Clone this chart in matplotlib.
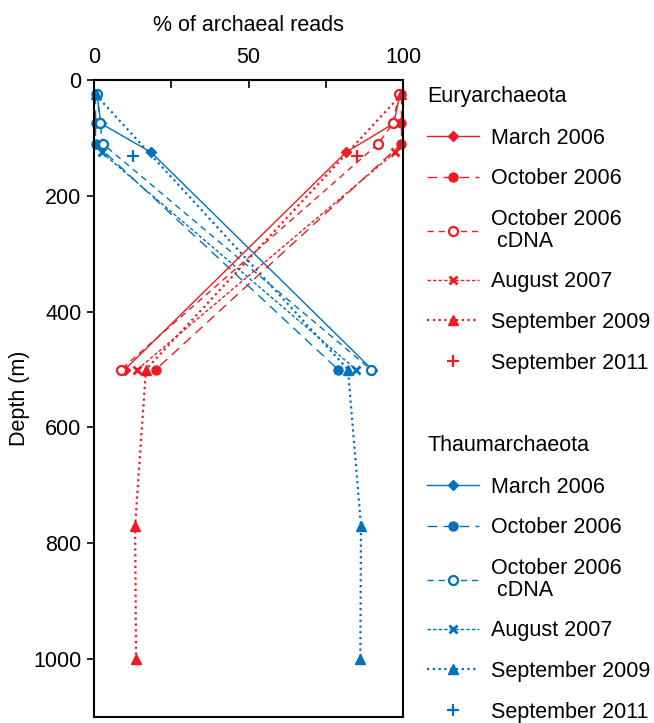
import matplotlib
matplotlib.use("Agg")
import matplotlib.pyplot as plt

plt.rcParams['font.family'] = ['Liberation Sans', 'DejaVu Sans']
plt.rcParams['font.size'] = 15.5

# Data --------------------------------------------------------------
depth_mar06 = [25, 75, 125, 500]
eury_mar06 = [99, 97, 81.5, 10]
thaum_mar06 = [1, 2.2, 18.5, 90]

depth_oct06 = [25, 75, 110, 500]
eury_oct06 = [99.5, 99.5, 99.5, 20]
thaum_oct06 = [0.5, 0.5, 0.5, 79]

depth_cdna = [25, 75, 110, 500]
eury_cdna = [98.7, 96.7, 92, 8.7]
thaum_cdna = [1, 2, 2.8, 89.6]

depth_aug07 = [125, 500]
eury_aug07 = [97.4, 14]
thaum_aug07 = [2.5, 84.8]

depth_sep09 = [25, 500, 770, 1000]
eury_sep09 = [99.5, 16.8, 13.3, 13.6]
thaum_sep09 = [0.5, 82.2, 86.4, 86.2]

depth_sep11 = [131]
eury_sep11 = [85]
thaum_sep11 = [12.6]

labels = ['March 2006', 'October 2006', 'October 2006\n cDNA',
          'August 2007', 'September 2009', 'September 2011']

RED = '#ED1C24'
BLUE = '#0071BC'

# styles: (linestyle, marker, markersize, filled, lw, mew)
styles = [
  ('-', 'D', 5.5, True, 1.0, 1.0),
  ((0, (7, 4.5)), 'o', 6.5, True, 1.0, 1.0),
  ((0, (4.5, 3.5)), 'o', 6.5, False, 1.0, 1.6),
  ((0, (2.5, 1.5)), 'x', 6, True, 1.0, 2.0),
  ((0, (1, 1.6)), '^', 7, True, 1.6, 1.0),
  ('none', '+', 9, True, 1.0, 1.6),
]

fig = plt.figure(figsize=(6.54, 7.23), dpi=100)
ax = fig.add_axes([94/654, 1-717/723, (403-94)/654, (717-80)/723])

def plot_group(series, color):
  handles = []
  for (d, v), lab, st in zip(series, labels, styles):
    ls, mk, ms, filled, lw, mew = st
    h, = ax.plot(v, d, linestyle=ls, marker=mk, markersize=ms, color=color,
                 markerfacecolor=color if filled else 'white',
                 markeredgecolor=color, markeredgewidth=mew, lw=lw,
                 label=lab, clip_on=False)
    handles.append(h)
  return handles

eury = [(depth_mar06, eury_mar06), (depth_oct06, eury_oct06), (depth_cdna, eury_cdna),
        (depth_aug07, eury_aug07), (depth_sep09, eury_sep09), (depth_sep11, eury_sep11)]
thaum = [(depth_mar06, thaum_mar06), (depth_oct06, thaum_oct06), (depth_cdna, thaum_cdna),
         (depth_aug07, thaum_aug07), (depth_sep09, thaum_sep09), (depth_sep11, thaum_sep11)]

h_thaum = plot_group(thaum, BLUE)
h_eury = plot_group(eury, RED)

# Axes details
ax.set_xlim(0, 100)
ax.set_ylim(1100, 0)
ax.xaxis.tick_top()
ax.xaxis.set_label_position('top')
ax.set_xticks([0, 50, 100])
ax.set_xticks([25, 75], minor=True)
ax.set_yticks([0, 200, 400, 600, 800, 1000])
ax.tick_params(axis='x', which='both', direction='in', length=6, width=1.2, pad=8.5)
ax.tick_params(axis='y', direction='out', length=5, width=1.2, pad=4)
for s in ax.spines.values():
  s.set_linewidth(1.5)
ax.set_xlabel('% of archaeal reads', labelpad=12)
ax.set_ylabel('Depth (m)', labelpad=2)

# Legends
leg_kw = dict(loc='upper left', frameon=False, handlelength=2.4, handletextpad=0.55,
              labelspacing=0.91, borderpad=0, borderaxespad=0, alignment='left',
              title_fontsize=15.5, bbox_transform=fig.transFigure)
leg1 = ax.legend(handles=h_eury, title='Euryarchaeota',
                 bbox_to_anchor=(427/654, 1-86/723), **leg_kw)
ax.add_artist(leg1)
leg2 = ax.legend(handles=h_thaum, title='Thaumarchaeota',
                 bbox_to_anchor=(427/654, 1-435/723), **leg_kw)
for lg in (leg1, leg2):
  lg._legend_box.sep = 15
  for t in lg.get_texts():
    t.set_linespacing(1.05)

fig.savefig('out.png', dpi=100)
